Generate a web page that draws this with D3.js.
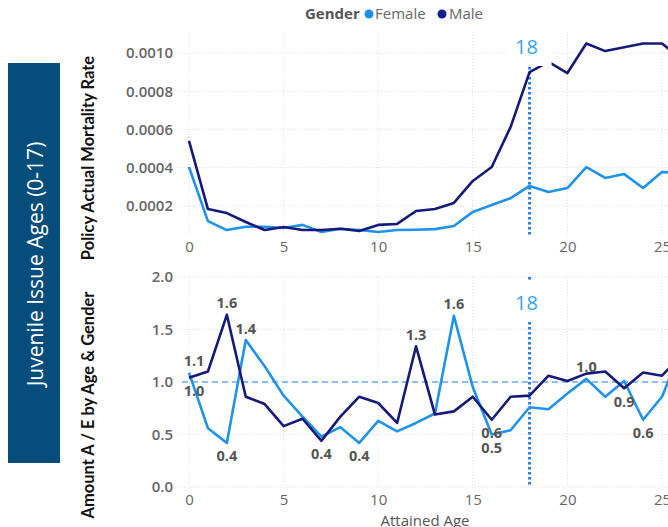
<!DOCTYPE html>
<html>
<head>
<meta charset="utf-8">
<script src="https://cdn.jsdelivr.net/npm/d3@7"></script>
<style>
  html, body { margin: 0; padding: 0; background: #fff; }
  svg { display: block; }
</style>
</head>
<body>
<div id="chart"></div>
<script>
const WIDTH = 668;
const HEIGHT = 527;
const FEMALE = "#1f93ea";
const MALE = "#16197a";
const TICK_GRAY = "#666";
const LABEL_GRAY = "#555";
const FONT = "'Open Sans', 'Segoe UI', sans-serif";

// attained age categories
const ages = [0, 1, 2, 3, 4, 5, 6, 7, 8, 9, 10, 11, 12, 13, 14, 15, 16, 17, 18, 19, 20, 21, 22, 23, 24, 25, 26];
const xTicks = [0, 5, 10, 15, 20, 25];

// policy actual mortality rate
const maleRate = [0.00054, 0.000183, 0.000162, 0.000115, 0.000073, 0.000089, 0.000073, 0.000073, 0.00008, 0.000068,
  0.0001, 0.000105, 0.000173, 0.000183, 0.000215, 0.00033, 0.000403, 0.000613, 0.0009, 0.000953,
  0.000895, 0.00105, 0.00101, 0.00103, 0.00105, 0.00105, 0.00097];
const femaleRate = [0.000403, 0.00012, 0.000073, 0.00009, 0.00009, 0.000084, 0.0001, 0.000063, 0.00008, 0.000073,
  0.000063, 0.000073, 0.000075, 0.000078, 0.000094, 0.000168, 0.000204, 0.00024, 0.000304, 0.000272,
  0.000293, 0.000403, 0.000346, 0.000366, 0.000293, 0.000377, 0.00037];
const rateTicks = [0.0002, 0.0004, 0.0006, 0.0008, 0.0010];

// amount A / E
const maleAE = [1.04, 1.1, 1.64, 0.86, 0.79, 0.58, 0.65, 0.44, 0.67, 0.86, 0.80, 0.61, 1.34, 0.69, 0.72, 0.86,
  0.64, 0.86, 0.87, 1.06, 1.01, 1.08, 1.1, 0.94, 1.09, 1.06, 1.25];
const femaleAE = [1.09, 0.56, 0.42, 1.40, 1.15, 0.87, 0.67, 0.48, 0.57, 0.42, 0.63, 0.53, 0.61, 0.70, 1.63, 0.95,
  0.50, 0.54, 0.76, 0.74, 0.89, 1.03, 0.86, 1.01, 0.64, 0.86, 1.3];
const aeTicks = [0, 0.5, 1, 1.5, 2];

// data labels shown on the A/E panel: [series, age]
const aeLabels = [["F", 0], ["M", 0], ["M", 2], ["F", 3], ["F", 2], ["M", 7], ["F", 9], ["M", 12],
  ["F", 14], ["M", 16], ["F", 16], ["F", 21], ["M", 23], ["F", 24]];
const labelsAbove = new Set(["F0", "M2", "F3", "M12", "F14", "F21"]);

const markerAge = 18;

const svg = d3.select("#chart").append("svg")
  .attr("width", WIDTH)
  .attr("height", HEIGHT)
  .style("font-family", FONT);

const x = d3.scaleLinear().domain([0, 25]).range([189, 662]);
const yTop = d3.scaleLinear().domain([0, 0.001]).range([244, 53]);
const yBot = d3.scaleLinear().domain([0, 2]).range([487, 277]);

// left title band
svg.append("rect")
  .attr("x", 8).attr("y", 63).attr("width", 52).attr("height", 400)
  .attr("fill", "#054d7b");
svg.append("text")
  .attr("transform", "translate(35,264) rotate(-90)")
  .attr("text-anchor", "middle")
  .attr("dominant-baseline", "central")
  .attr("fill", "#fff")
  .style("font-size", "21px")
  .text("Juvenile Issue Ages (0-17)");

// legend
const legend = svg.append("g").attr("transform", "translate(305,19)").style("font-size", "15px");
legend.append("text").attr("x", 0).attr("fill", LABEL_GRAY).style("font-weight", 700).text("Gender");
legend.append("circle").attr("cx", 64).attr("cy", -5).attr("r", 4.5).attr("fill", "#1e8ff5");
legend.append("text").attr("x", 70).attr("fill", TICK_GRAY).text("Female");
legend.append("circle").attr("cx", 137).attr("cy", -5).attr("r", 4.5).attr("fill", "#121f8f");
legend.append("text").attr("x", 144).attr("fill", TICK_GRAY).text("Male");

function panel(y, yTicks, fmt, gridTop, gridBottom, title, titleY, xLabelY) {
  const g = svg.append("g");

  // grid
  g.append("g").selectAll("line").data(xTicks).join("line")
    .attr("x1", d => x(d)).attr("x2", d => x(d))
    .attr("y1", gridTop).attr("y2", gridBottom)
    .attr("stroke", "#ddd").attr("stroke-width", 1).attr("stroke-dasharray", "1,2");
  g.append("g").selectAll("line").data(yTicks).join("line")
    .attr("x1", 178).attr("x2", WIDTH)
    .attr("y1", d => y(d)).attr("y2", d => y(d))
    .attr("stroke", "#ddd").attr("stroke-width", 1).attr("stroke-dasharray", "1,2");

  // y axis labels
  const yAxis = g.append("g")
    .attr("transform", "translate(173,0)")
    .call(d3.axisLeft(y).tickValues(yTicks).tickFormat(fmt).tickSize(0).tickPadding(0));
  yAxis.select(".domain").remove();
  yAxis.selectAll("text")
    .attr("fill", TICK_GRAY)
    .style("font-family", FONT)
    .style("font-size", "15px")
    .style("font-weight", 600);

  // x axis labels
  const xAxis = g.append("g")
    .attr("transform", `translate(0,${xLabelY})`)
    .call(d3.axisBottom(x).tickValues(xTicks).tickFormat(d3.format("d")).tickSize(0).tickPadding(0));
  xAxis.select(".domain").remove();
  xAxis.selectAll("text")
    .attr("fill", TICK_GRAY)
    .attr("dy", "0")
    .attr("dominant-baseline", "central")
    .style("font-family", FONT)
    .style("font-size", "15px");

  // axis title
  svg.append("text")
    .attr("transform", `translate(88,${titleY}) rotate(-90)`)
    .attr("text-anchor", "middle")
    .attr("dominant-baseline", "central")
    .attr("fill", "#111")
    .style("font-family", "Lato, 'Open Sans', sans-serif")
    .style("font-size", "16.5px")
    .style("font-weight", 700)
    .text(title);

  // age 18 marker
  g.append("line")
    .attr("x1", x(markerAge)).attr("x2", x(markerAge))
    .attr("y1", gridTop).attr("y2", gridBottom)
    .attr("stroke", "#2a7fdc").attr("stroke-width", 3).attr("stroke-dasharray", "2.5,2.5");

  return g;
}

function drawLines(g, y, male, female) {
  const line = d3.line().x((d, i) => x(ages[i])).y(d => y(d));
  g.append("path").datum(female)
    .attr("d", line).attr("fill", "none")
    .attr("stroke", FEMALE).attr("stroke-width", 2.6).attr("stroke-linejoin", "round");
  g.append("path").datum(male)
    .attr("d", line).attr("fill", "none")
    .attr("stroke", MALE).attr("stroke-width", 2.6).attr("stroke-linejoin", "round");
}

function markerLabel(g, cy) {
  g.append("rect")
    .attr("x", x(markerAge) - 22).attr("y", cy - 20)
    .attr("width", 44).attr("height", 40)
    .attr("fill", "#fff");
  g.append("text")
    .attr("x", x(markerAge) - 3).attr("y", cy)
    .attr("text-anchor", "middle")
    .attr("dominant-baseline", "central")
    .attr("fill", "#3aa3f5")
    .style("font-size", "20px")
    .text(markerAge);
}

// top panel: mortality rate
const topPanel = panel(yTop, rateTicks, d3.format(".4f"), 32, 236, "Policy Actual Mortality Rate", 158, 246);
drawLines(topPanel, yTop, maleRate, femaleRate);
markerLabel(topPanel, 46);

// bottom panel: A/E
const botPanel = panel(yBot, aeTicks, d3.format(".1f"), 277, 487, "Amount A / E by Age & Gender", 405, 499);
botPanel.append("line")
  .attr("x1", 182).attr("x2", WIDTH)
  .attr("y1", yBot(1)).attr("y2", yBot(1))
  .attr("stroke", "#8fbdee").attr("stroke-width", 2).attr("stroke-dasharray", "6,4");
drawLines(botPanel, yBot, maleAE, femaleAE);
markerLabel(botPanel, 302);

const aeValue = d => (d[0] === "M" ? maleAE : femaleAE)[d[1]];
botPanel.append("g").selectAll("text").data(aeLabels).join("text")
  .attr("x", d => x(d[1]) + (d[1] === 0 ? 5 : 0))
  .attr("y", d => yBot(aeValue(d)) + (labelsAbove.has(d[0] + d[1]) ? -12 : 13))
  .attr("text-anchor", "middle")
  .attr("dominant-baseline", "central")
  .attr("fill", LABEL_GRAY)
  .style("font-size", "14.5px")
  .style("font-weight", 700)
  .text(d => d3.format(".1f")(aeValue(d)));

// x axis title
svg.append("text")
  .attr("x", 425).attr("y", 520)
  .attr("text-anchor", "middle")
  .attr("dominant-baseline", "central")
  .attr("fill", LABEL_GRAY)
  .style("font-size", "15px")
  .text("Attained Age");
</script>
</body>
</html>
